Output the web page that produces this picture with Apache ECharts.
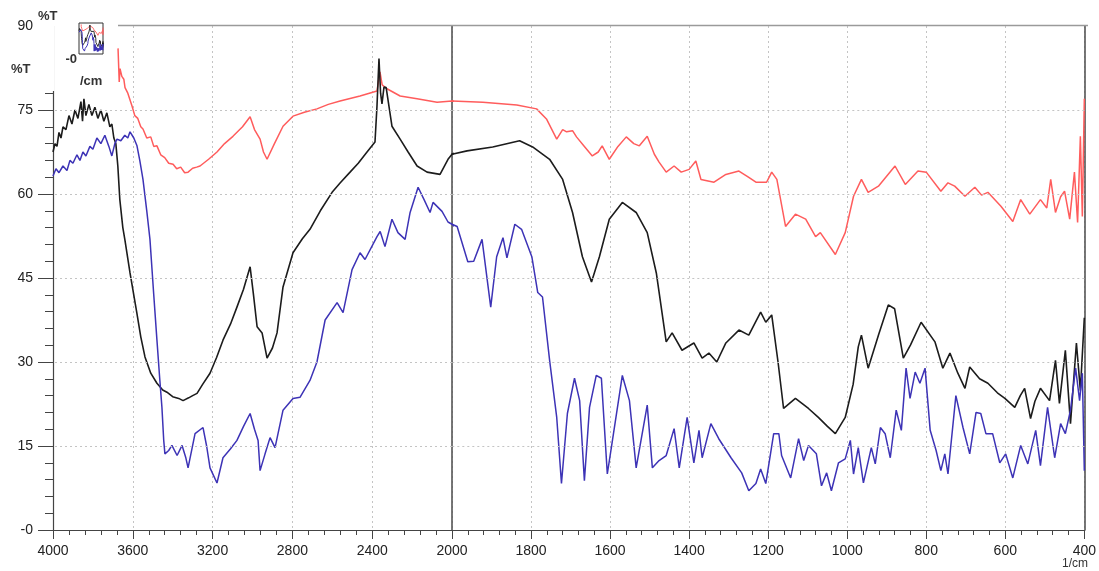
<!DOCTYPE html>
<html>
<head>
<meta charset="utf-8">
<title>%T spectrum</title>
<script src="https://cdn.jsdelivr.net/npm/echarts@6/dist/echarts.min.js"></script>
<style>
html,body{margin:0;padding:0;background:#fff;}
#chart{width:1099px;height:571px;}
</style>
</head>
<body>
<div id="chart"></div>
<script>
// wavenumber (1/cm), %T
var redData = [[3674,86],[3668,80],[3664,82.4],[3655,81],[3645,80.5],[3639,79],[3625,78],[3604,75.7],[3590,74],[3575,73.5],[3560,72],[3549,71.6],[3530,70],[3510,70.2],[3495,68.5],[3479,68.6],[3460,67],[3440,66.5],[3420,65.5],[3398,65.3],[3380,64.5],[3360,64.8],[3340,63.8],[3323,63.9],[3300,64.6],[3280,64.8],[3263,65],[3220,66.2],[3178,67.5],[3140,69],[3098,70.3],[3050,72],[3012,73.8],[2990,71.5],[2962,69.8],[2945,67.5],[2927,66.2],[2890,69],[2847,72.1],[2797,73.9],[2740,74.6],[2677,75.2],[2620,76],[2561,76.6],[2461,77.5],[2376,78.4],[2361,81.8],[2350,79.5],[2326,78.8],[2260,77.5],[2175,77],[2075,76.4],[2000,76.6],[1922,76.4],[1836,75.9],[1786,75.2],[1761,73.4],[1735,69.8],[1720,71.5],[1710,71.1],[1695,71.3],[1685,70.2],[1665,68.5],[1645,66.8],[1630,67.5],[1620,68.6],[1602,66.2],[1580,68.5],[1559,70.2],[1540,69],[1526,68.6],[1506,70.3],[1488,67.1],[1476,65.7],[1458,63.9],[1438,65],[1420,63.9],[1400,64.4],[1383,65.9],[1370,62.6],[1337,62.1],[1307,63.5],[1274,64.1],[1250,63],[1231,62.1],[1204,62.1],[1191,63.9],[1178,62.6],[1156,54.2],[1131,56.4],[1105,55.5],[1080,52.4],[1068,53.1],[1030,49.2],[1005,53.1],[984,59.6],[964,62.6],[947,60.3],[921,61.4],[879,65],[853,61.7],[821,64.1],[800,63.9],[763,60.5],[745,62],[728,61.4],[702,59.6],[677,61.2],[660,59.8],[644,60.3],[611,57.8],[581,55.1],[561,59],[538,56.4],[511,59],[495,57.5],[485,62.6],[473,56.7],[460,59.5],[450,60.5],[437,55.5],[425,63.9],[417,54.9],[410,70.3],[405,56],[400,77]];

var blackData = [[4000,67.5],[3990,69],[3980,68.5],[3970,71],[3960,70],[3950,72],[3935,71.5],[3920,74],[3905,72.5],[3890,75],[3875,73.5],[3860,76.5],[3852,73],[3845,77],[3835,74],[3820,76],[3805,74],[3790,75.5],[3775,73.5],[3760,75],[3745,73],[3730,74.5],[3715,72],[3705,72.5],[3695,70],[3685,69],[3675,65],[3665,59],[3650,54],[3640,51.9],[3614,45.9],[3580,38.8],[3560,34.5],[3539,30.9],[3510,28],[3479,26.2],[3450,25],[3429,24.6],[3400,23.8],[3370,23.5],[3348,23.1],[3320,23.6],[3300,24],[3278,24.4],[3250,26],[3213,28],[3180,30.8],[3148,33.9],[3110,36.8],[3078,39.8],[3045,43],[3012,47],[2995,42],[2977,36.3],[2952,35.2],[2927,30.7],[2900,32.5],[2877,35.2],[2847,43.4],[2797,49.5],[2750,52],[2712,53.7],[2660,57],[2601,60.3],[2560,62],[2511,63.9],[2470,65.5],[2426,67.5],[2386,69.3],[2376,75.7],[2366,84.2],[2358,78],[2351,76.1],[2341,79.1],[2330,79],[2301,72.1],[2260,69.8],[2220,67.5],[2175,65],[2125,63.9],[2060,63.5],[2020,66.2],[2000,67.1],[1962,67.7],[1897,68.4],[1829,69.5],[1796,68.4],[1753,66.2],[1720,62.6],[1695,56.7],[1670,48.8],[1647,44.3],[1627,48.8],[1602,55.5],[1569,58.5],[1534,56.7],[1506,53.1],[1483,45.9],[1458,33.6],[1443,35.2],[1418,32.1],[1388,33.4],[1367,30.7],[1350,31.6],[1330,30],[1307,33.4],[1274,35.7],[1249,34.8],[1219,38.9],[1206,37.1],[1191,38.4],[1175,30],[1161,21.7],[1131,23.5],[1098,21.7],[1073,20.1],[1050,18.5],[1030,17.2],[1005,20.1],[985,26],[972,32.7],[964,34.8],[947,28.9],[920,35],[896,40.2],[880,39.5],[858,30.7],[840,33],[813,37.1],[778,33.6],[758,28.9],[740,31.6],[720,28],[702,25.3],[690,29.1],[665,27],[644,26.2],[620,24.5],[601,23.5],[576,21.9],[562,24],[551,25.3],[536,19.9],[525,23],[511,25.3],[488,23.1],[473,30.3],[463,22.6],[448,32.1],[435,19],[420,33.4],[410,24.9],[400,37.9]];

var blueData = [[4000,63.2],[3985,64.5],[3970,63.8],[3950,65],[3930,64.2],[3915,66],[3900,65.5],[3880,67],[3865,66],[3850,67.5],[3835,66.8],[3815,68.5],[3800,68],[3780,70],[3760,69],[3740,70.5],[3720,68.5],[3705,66.8],[3690,69],[3679,69.8],[3660,69.5],[3640,70.5],[3625,70],[3614,71.1],[3595,70],[3579,68.6],[3565,66],[3549,62.6],[3530,57],[3514,51.9],[3495,42],[3479,33.9],[3465,27],[3454,21.9],[3445,16],[3439,13.6],[3420,14.2],[3404,15.1],[3378,13.3],[3353,15.1],[3335,13],[3323,11.1],[3288,17.2],[3248,18.3],[3230,15],[3213,11.1],[3178,8.4],[3148,12.9],[3110,14.5],[3078,16],[3045,18.5],[3012,20.8],[2990,18],[2972,16],[2962,10.6],[2937,13.6],[2912,16.5],[2887,14.7],[2847,21.4],[2797,23.5],[2762,23.7],[2712,26.7],[2677,30],[2636,37.5],[2576,40.6],[2546,38.8],[2501,46.5],[2461,49.5],[2436,48.3],[2376,52.4],[2360,53.3],[2336,50.6],[2301,55.5],[2271,53.1],[2235,51.9],[2210,56.7],[2170,61.2],[2140,59],[2110,56.7],[2095,58.5],[2050,56.9],[2020,55],[2000,54.6],[1987,54.2],[1960,47.9],[1945,48],[1924,51.9],[1902,39.8],[1887,48.8],[1871,52.2],[1861,48.6],[1841,54.6],[1824,53.7],[1798,48.8],[1783,42.4],[1771,41.6],[1753,30.3],[1735,20.1],[1723,8.3],[1708,20.8],[1690,27.1],[1677,23.1],[1665,8.8],[1652,21.9],[1635,27.6],[1622,27.1],[1607,10],[1594,16],[1569,27.6],[1551,23.1],[1534,11.1],[1506,22.3],[1493,11.1],[1476,12.4],[1458,13.3],[1438,18.1],[1425,11.1],[1405,20.1],[1388,12],[1375,17.8],[1367,12.9],[1345,19],[1325,16.3],[1294,12.9],[1267,10.2],[1249,7],[1231,8.3],[1219,10.9],[1206,8.3],[1186,17.2],[1173,17.2],[1166,13.3],[1143,9.3],[1123,16.3],[1110,12.4],[1098,15.1],[1078,13.6],[1065,7.9],[1052,10.2],[1040,7],[1022,12],[1005,12.7],[992,16],[984,10],[972,14.7],[959,8.4],[939,14.7],[929,11.8],[916,18.3],[904,17.2],[891,12.9],[876,21.4],[863,17.8],[851,28.9],[841,23.5],[828,28.2],[816,26.2],[803,28.9],[790,17.8],[775,14.2],[763,10.6],[753,13.6],[745,10],[725,24],[707,18.3],[690,13.6],[674,21],[662,20.8],[649,17.2],[632,17.2],[614,12],[599,13.6],[581,9.3],[561,15.1],[543,11.8],[523,17.8],[511,11.5],[493,21.9],[475,12.9],[460,19],[448,17.2],[435,21.4],[422,28.9],[412,23.1],[405,28],[400,10.6]];

var yGridValues = [15, 30, 45, 60, 75];

var FONT = '"Liberation Sans", Arial, sans-serif';
var AXIS_COLOR = '#444';
var GRID_COLOR = '#c4c4c4';

var colors = { red: '#ff5c5c', black: '#1c1c1c', blue: '#3d33b6' };

// horizontal dotted lines, drawn as markLine so the 90 line stays off
var hLines = {
    silent: true,
    symbol: 'none',
    label: { show: false },
    animation: false,
    lineStyle: { type: [2, 3], color: GRID_COLOR, width: 1 },
    data: yGridValues.map(function (v) { return { yAxis: v }; })
};

var makeLine = function (name, data, color, xi, yi, width, withGrid, z) {
    var s = {
        name: name,
        type: 'line',
        data: data,
        xAxisIndex: xi,
        yAxisIndex: yi,
        showSymbol: false,
        symbol: 'none',
        clip: true,
        lineStyle: { color: color, width: width },
        z: z || 3
    };
    if (withGrid) s.markLine = hLines;
    return s;
};

var xAxisBase = function (grid, min, max, interval, fmt) {
    return {
        type: 'value',
        gridIndex: grid,
        min: min,
        max: max,
        interval: interval,
        inverse: true,
        axisLine: { show: true, lineStyle: { color: AXIS_COLOR, width: 1.2 } },
        axisTick: { show: true, length: 9, lineStyle: { color: AXIS_COLOR } },
        minorTick: { show: true, splitNumber: 5, length: 5, lineStyle: { color: AXIS_COLOR } },
        splitLine: { show: true, lineStyle: { type: [2, 3], color: GRID_COLOR } },
        axisLabel: { color: '#222', fontSize: 14, fontFamily: FONT, margin: 14, formatter: fmt }
    };
};

var myChart = echarts.init(document.getElementById('chart'));

var option = {
    animation: false,
    backgroundColor: '#fff',
    grid: [
        { left: 53, top: 26, width: 399, bottom: 41 },
        { left: 452, top: 26, width: 635, bottom: 41 },
        { left: 79, top: 23, width: 24, height: 31, show: true, borderColor: '#333', borderWidth: 1, backgroundColor: '#fff', z: 5 }
    ],
    xAxis: [
        xAxisBase(0, 2000, 4000, 400, function (v) { return v === 2000 ? '' : v; }),
        xAxisBase(1, 400, 2000, 200, function (v) { return v; }),
        { type: 'value', gridIndex: 2, min: 400, max: 4000, inverse: true, show: false }
    ],
    yAxis: [
        {
            type: 'value', gridIndex: 0, min: 0, max: 90, interval: 15,
            axisLine: { show: true, lineStyle: { color: AXIS_COLOR, width: 1.2 } },
            axisTick: { show: true, length: 15, lineStyle: { color: AXIS_COLOR } },
            minorTick: { show: true, splitNumber: 5, length: 8, lineStyle: { color: AXIS_COLOR } },
            splitLine: { show: false },
            axisLabel: {
                color: '#222', fontSize: 14, fontFamily: FONT, margin: 20,
                formatter: function (v) { return v === 0 ? '-0' : v; }
            }
        },
        {
            type: 'value', gridIndex: 1, min: 0, max: 90, interval: 15,
            axisLine: { show: true, lineStyle: { color: '#555', width: 1.6 } },
            axisTick: { show: false }, axisLabel: { show: false }, splitLine: { show: false }
        },
        {
            type: 'value', gridIndex: 1, min: 0, max: 90, interval: 15, position: 'right',
            axisLine: { show: true, lineStyle: { color: '#555', width: 1.6 } },
            axisTick: { show: false }, axisLabel: { show: false }, splitLine: { show: false }
        },
        { type: 'value', gridIndex: 2, min: 0, max: 90, show: false }
    ],
    graphic: [
        // the axis has no line or ticks up beside the inset
        { type: 'rect', shape: { x: 35, y: 14, width: 19.5, height: 77 }, style: { fill: '#fff' }, z: 50 },
        { type: 'line', shape: { x1: 118, y1: 25.5, x2: 1088, y2: 25.5 }, style: { stroke: '#9a9a9a', lineWidth: 1.5 }, z: 50 },
        { type: 'text', x: 38, y: 10, style: { text: '%T', fill: '#333', font: 'bold 13px ' + FONT }, z: 60 },
        { type: 'text', x: 77, y: 59, style: { text: '-0', fill: '#333', font: 'bold 13px ' + FONT, align: 'right', verticalAlign: 'middle' }, z: 60 },
        { type: 'text', x: 11, y: 63, style: { text: '%T', fill: '#333', font: 'bold 13px ' + FONT }, z: 60 },
        { type: 'text', x: 80, y: 75, style: { text: '/cm', fill: '#333', font: 'bold 13px ' + FONT }, z: 60 },
        { type: 'text', x: 1062, y: 558, style: { text: '1/cm', fill: '#333', font: '12px ' + FONT }, z: 60 }
    ],
    series: [
        makeLine('red', redData, colors.red, 0, 0, 1.5, true),
        makeLine('black', blackData, colors.black, 0, 0, 1.6, false),
        makeLine('blue', blueData, colors.blue, 0, 0, 1.5, false),
        makeLine('red', redData, colors.red, 1, 1, 1.5, true),
        makeLine('black', blackData, colors.black, 1, 1, 1.6, false),
        makeLine('blue', blueData, colors.blue, 1, 1, 1.5, false),
        makeLine('red', redData, colors.red, 2, 3, 0.9, false, 20),
        makeLine('black', blackData, colors.black, 2, 3, 0.9, false, 20),
        makeLine('blue', blueData, colors.blue, 2, 3, 1, false, 20)
    ]
};

myChart.setOption(option);
</script>
</body>
</html>
